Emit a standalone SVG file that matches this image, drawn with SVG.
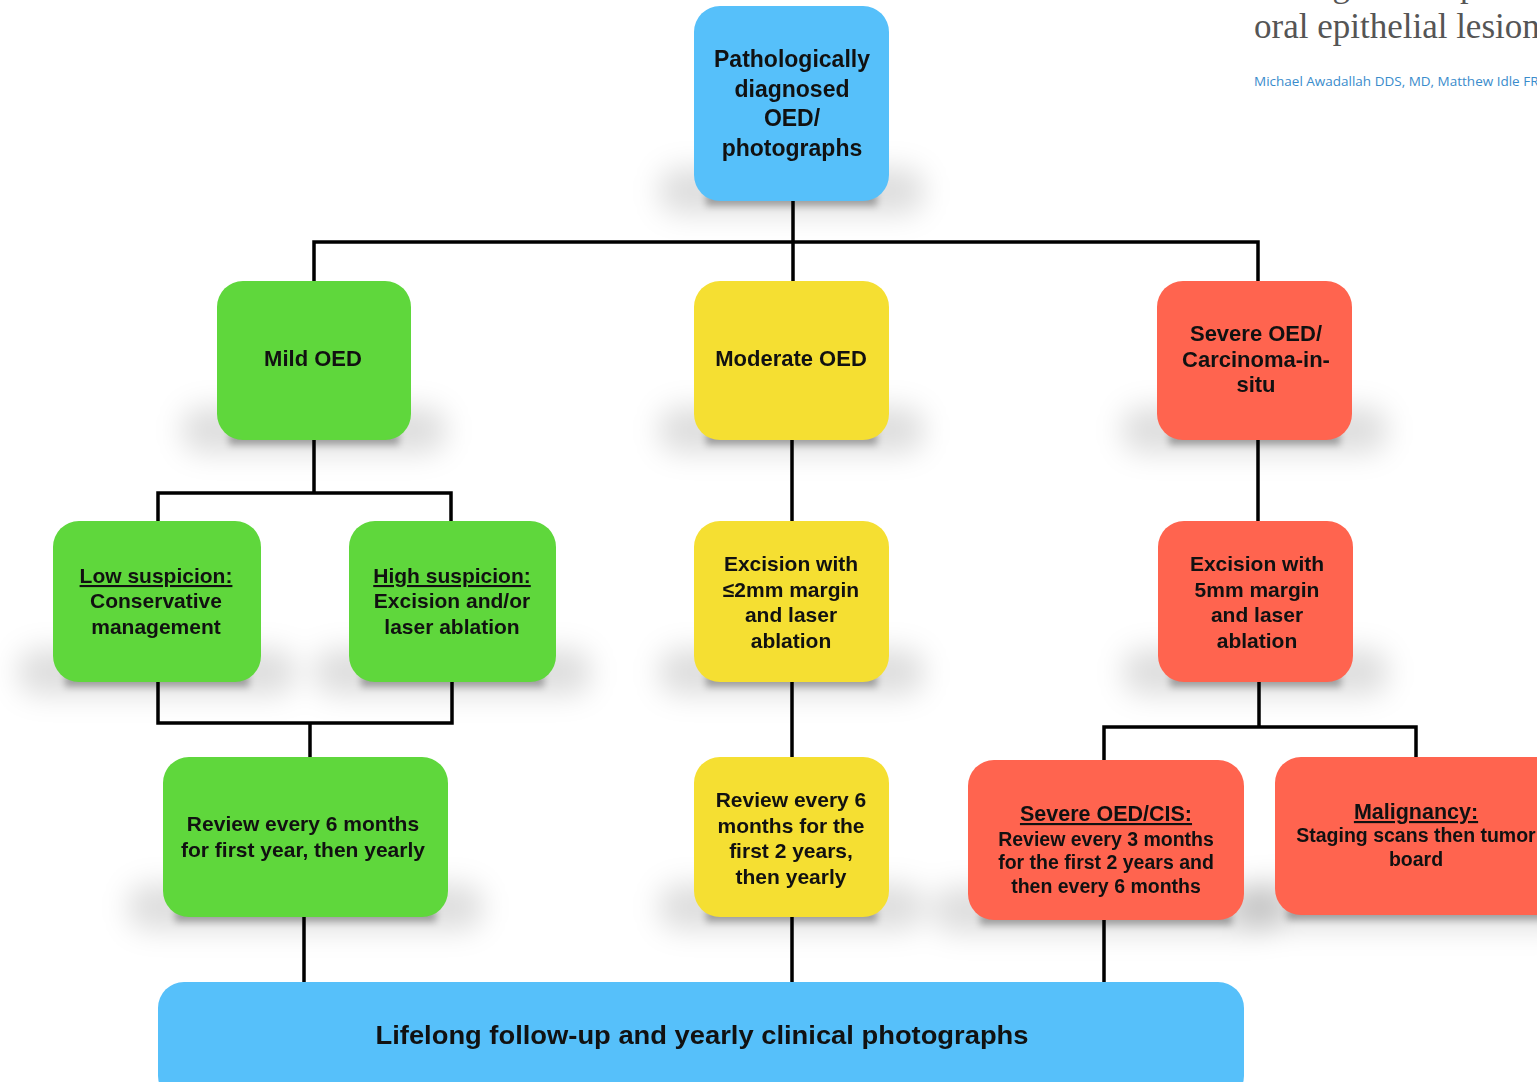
<svg xmlns="http://www.w3.org/2000/svg" width="1537" height="1082" viewBox="0 0 1537 1082">
  <style>
    .box { stroke: none; }
    .blue { fill: #56c0fa; }
    .green { fill: #5fd73c; }
    .yellow { fill: #f5df32; }
    .red { fill: #ff644f; }
    .haze { fill: #000; opacity: 0.13; }
    .contact { fill: #000; opacity: 0.3; }
    .lbl { font-family: "Liberation Sans", Arial, sans-serif; font-weight: bold; fill: #111; text-anchor: middle; }
    .f23 { font-size: 23px; }
    .f22 { font-size: 22px; }
    .f21 { font-size: 21px; }
    .f19 { font-size: 19.5px; }
    .u { text-decoration: underline; }
    .wire { stroke: #000; stroke-width: 3.5; fill: none; stroke-linecap: square; }
  </style>
  <defs>
    <filter id="wide" x="-20%" y="-50%" width="140%" height="200%">
      <feGaussianBlur stdDeviation="14"/>
    </filter>
    <filter id="tight" x="-20%" y="-50%" width="140%" height="200%">
      <feGaussianBlur stdDeviation="3.5"/>
    </filter>
  </defs>

  <rect width="1537" height="1082" fill="#ffffff"/>

  <!-- article heading in the corner -->
  <g id="heading">
    <text x="1254" y="-3" font-family="Liberation Serif, 'Times New Roman', serif" font-size="34.5" fill="#555">Management update</text>
    <text x="1254" y="38" font-family="Liberation Serif, 'Times New Roman', serif" font-size="35" fill="#555">oral epithelial lesions</text>
    <text x="1254" y="86" font-family="'Open Sans', 'Liberation Sans', sans-serif" font-size="13.5" fill="#3a8ccc">Michael Awadallah DDS, MD, Matthew Idle FR</text>
  </g>

  <!-- soft haze beneath the boxes -->
  <g id="shadow-haze" filter="url(#wide)">
    <rect class="haze" x="659" y="168" width="265" height="46" rx="20"/>
    <rect class="haze" x="182" y="407" width="264" height="46" rx="20"/>
    <rect class="haze" x="659" y="407" width="265" height="46" rx="20"/>
    <rect class="haze" x="1122" y="407" width="265" height="46" rx="20"/>
    <rect class="haze" x="18" y="649" width="278" height="46" rx="20"/>
    <rect class="haze" x="314" y="649" width="277" height="46" rx="20"/>
    <rect class="haze" x="659" y="649" width="265" height="46" rx="20"/>
    <rect class="haze" x="1123" y="649" width="265" height="46" rx="20"/>
    <rect class="haze" x="128" y="884" width="355" height="46" rx="20"/>
    <rect class="haze" x="659" y="884" width="265" height="46" rx="20"/>
    <rect class="haze" x="933" y="887" width="346" height="46" rx="20"/>
    <rect class="haze" x="1240" y="882" width="330" height="46" rx="20"/>
  </g>
  <g id="shadow-contact" filter="url(#tight)">
    <rect class="contact" x="706" y="193" width="171" height="13"/>
    <rect class="contact" x="229" y="432" width="170" height="13"/>
    <rect class="contact" x="706" y="432" width="171" height="13"/>
    <rect class="contact" x="1169" y="432" width="171" height="13"/>
    <rect class="contact" x="65" y="674" width="184" height="13"/>
    <rect class="contact" x="361" y="674" width="183" height="13"/>
    <rect class="contact" x="706" y="674" width="171" height="13"/>
    <rect class="contact" x="1170" y="674" width="171" height="13"/>
    <rect class="contact" x="175" y="909" width="261" height="13"/>
    <rect class="contact" x="706" y="909" width="171" height="13"/>
    <rect class="contact" x="980" y="912" width="252" height="13"/>
    <rect class="contact" x="1287" y="907" width="266" height="13"/>
  </g>

  <!-- connectors -->
  <g id="connectors">
    <path class="wire" d="M793 201 V242 M314 242 H1258 M314 242 V281 M793 242 V281 M1258 242 V281"/>
    <path class="wire" d="M314 440 V493 M158 493 H451 M158 493 V521 M451 493 V521"/>
    <path class="wire" d="M792 440 V521"/>
    <path class="wire" d="M1258 440 V521"/>
    <path class="wire" d="M158 682 V723 H452 V682 M310 723 V757"/>
    <path class="wire" d="M792 682 V757"/>
    <path class="wire" d="M1259 682 V727 M1104 727 H1416 M1104 727 V760 M1416 727 V757"/>
    <path class="wire" d="M304 917 V982 M792 917 V982 M1104 920 V982"/>
  </g>

  <g id="node-start">
    <rect class="box blue" x="694" y="6" width="195" height="195" rx="26"/>
    <text class="lbl f23"><tspan x="792" y="67">Pathologically</tspan><tspan x="792" y="97">diagnosed</tspan><tspan x="792" y="126">OED/</tspan><tspan x="792" y="156">photographs</tspan></text>
  </g>

  <g id="node-mild">
    <rect class="box green" x="217" y="281" width="194" height="159" rx="26"/>
    <text class="lbl f22" x="313" y="366">Mild OED</text>
  </g>

  <g id="node-moderate">
    <rect class="box yellow" x="694" y="281" width="195" height="159" rx="26"/>
    <text class="lbl f22" x="791" y="366">Moderate OED</text>
  </g>

  <g id="node-severe">
    <rect class="box red" x="1157" y="281" width="195" height="159" rx="26"/>
    <text class="lbl f22"><tspan x="1256" y="341">Severe OED/</tspan><tspan x="1256" y="367">Carcinoma-in-</tspan><tspan x="1256" y="392">situ</tspan></text>
  </g>

  <g id="node-low">
    <rect class="box green" x="53" y="521" width="208" height="161" rx="26"/>
    <text class="lbl f21"><tspan class="u" x="156" y="583">Low suspicion:</tspan><tspan x="156" y="608">Conservative</tspan><tspan x="156" y="634">management</tspan></text>
  </g>

  <g id="node-high">
    <rect class="box green" x="349" y="521" width="207" height="161" rx="26"/>
    <text class="lbl f21"><tspan class="u" x="452" y="583">High suspicion:</tspan><tspan x="452" y="608">Excision and/or</tspan><tspan x="452" y="634">laser ablation</tspan></text>
  </g>

  <g id="node-excision-2mm">
    <rect class="box yellow" x="694" y="521" width="195" height="161" rx="26"/>
    <text class="lbl f21"><tspan x="791" y="571">Excision with</tspan><tspan x="791" y="597">≤2mm margin</tspan><tspan x="791" y="622">and laser</tspan><tspan x="791" y="648">ablation</tspan></text>
  </g>

  <g id="node-excision-5mm">
    <rect class="box red" x="1158" y="521" width="195" height="161" rx="26"/>
    <text class="lbl f21"><tspan x="1257" y="571">Excision with</tspan><tspan x="1257" y="597">5mm margin</tspan><tspan x="1257" y="622">and laser</tspan><tspan x="1257" y="648">ablation</tspan></text>
  </g>

  <g id="node-review-mild">
    <rect class="box green" x="163" y="757" width="285" height="160" rx="26"/>
    <text class="lbl f21"><tspan x="303" y="831">Review every 6 months</tspan><tspan x="303" y="857">for first year, then yearly</tspan></text>
  </g>

  <g id="node-review-moderate">
    <rect class="box yellow" x="694" y="757" width="195" height="160" rx="26"/>
    <text class="lbl f21"><tspan x="791" y="807">Review every 6</tspan><tspan x="791" y="833">months for the</tspan><tspan x="791" y="858">first 2 years,</tspan><tspan x="791" y="884">then yearly</tspan></text>
  </g>

  <g id="node-review-severe">
    <rect class="box red" x="968" y="760" width="276" height="160" rx="26"/>
    <text class="lbl"><tspan class="u" x="1106" y="821" font-size="21.5">Severe OED/CIS:</tspan><tspan class="f19" x="1106" y="846">Review every 3 months</tspan><tspan class="f19" x="1106" y="869">for the first 2 years and</tspan><tspan class="f19" x="1106" y="893">then every 6 months</tspan></text>
  </g>

  <g id="node-malignancy">
    <rect class="box red" x="1275" y="757" width="290" height="158" rx="26"/>
    <text class="lbl"><tspan class="u" x="1416" y="819" font-size="21.5">Malignancy:</tspan><tspan class="f19" x="1416" y="842">Staging scans then tumor</tspan><tspan class="f19" x="1416" y="866">board</tspan></text>
  </g>

  <g id="node-lifelong">
    <rect class="box blue" x="158" y="982" width="1086" height="120" rx="26"/>
    <text class="lbl" x="702" y="1044" font-size="25" textLength="653" lengthAdjust="spacingAndGlyphs">Lifelong follow-up and yearly clinical photographs</text>
  </g>
</svg>
